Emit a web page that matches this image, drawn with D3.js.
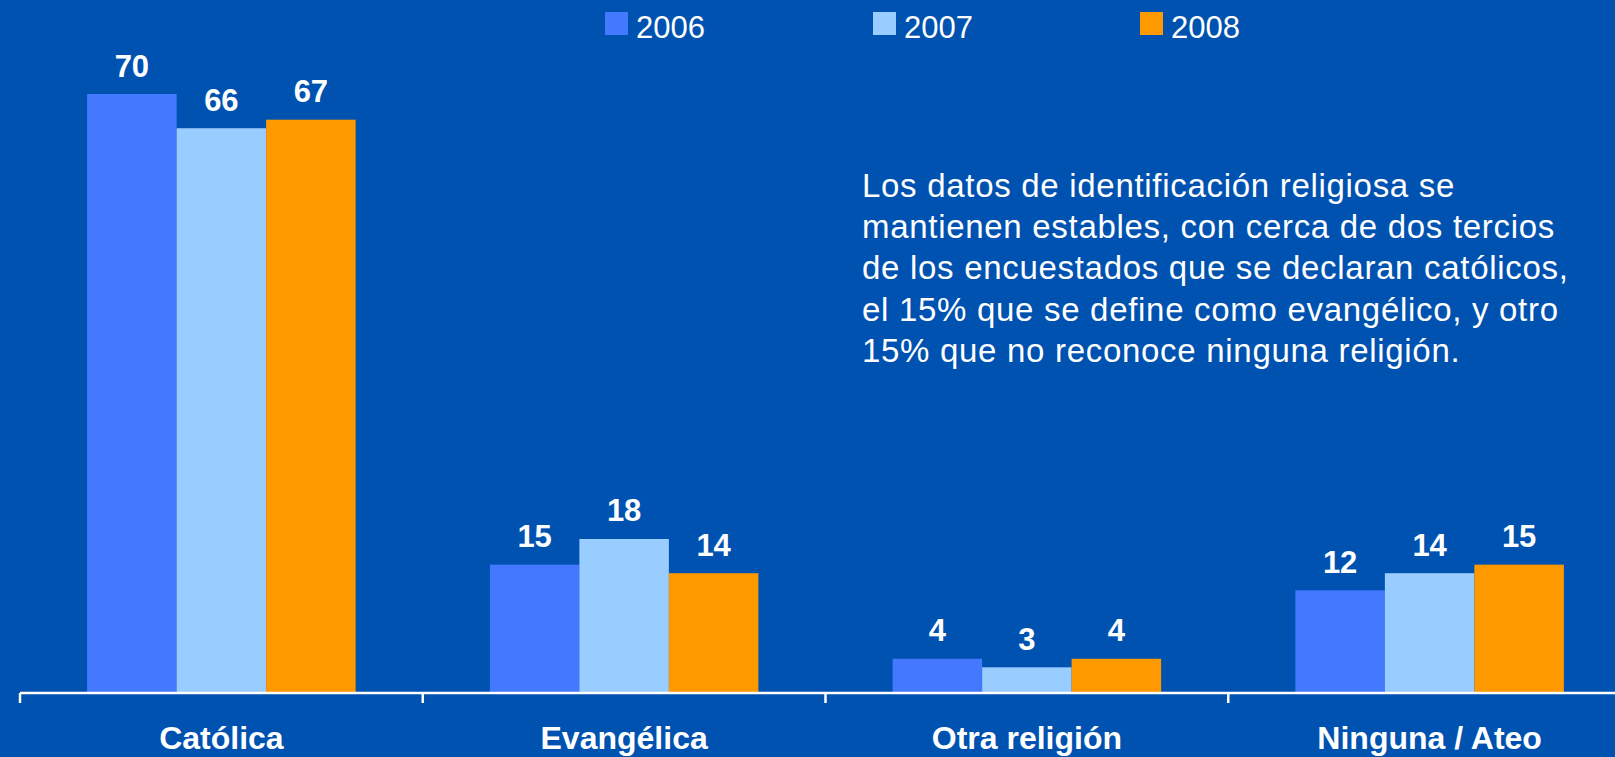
<!DOCTYPE html>
<html>
<head>
<meta charset="utf-8">
<script src="https://cdnjs.cloudflare.com/ajax/libs/d3/7.8.5/d3.min.js"></script>
<style>
  html, body { margin: 0; padding: 0; background: #0052b0; overflow: hidden; }
  svg { display: block; }
</style>
</head>
<body>
<svg id="chart"></svg>
<script>
// data
var categories = ["Católica", "Evangélica", "Otra religión", "Ninguna / Ateo"];
var years = ["2006", "2007", "2008"];
var values2006 = [70, 15, 4, 12];
var values2007 = [66, 18, 3, 14];
var values2008 = [67, 14, 4, 15];
var seriesValues = [values2006, values2007, values2008];
var colors = ["#4479ff", "#99ccff", "#ff9900"];
var noteLines = [
  "Los datos de identificación religiosa se",
  "mantienen estables, con cerca de dos tercios",
  "de los encuestados que se declaran católicos,",
  "el 15% que se define como evangélico, y otro",
  "15% que no reconoce ninguna religión."
];

var width = 1615, height = 757;
var svg = d3.select("#chart").attr("width", width).attr("height", height);

svg.append("rect").attr("width", width).attr("height", height).attr("fill", "#0052b0");

var baseY = 693;

var x0 = d3.scaleBand().domain(categories).range([20, 1631]).paddingInner(0).paddingOuter(0);
var x1 = d3.scaleBand().domain(years).range([0, x0.bandwidth()]).paddingInner(0).paddingOuter(0.75);
var y = d3.scaleLinear().domain([0, 80]).range([baseY, baseY - 80 * 8.557]);

var rows = categories.map(function(c, i) {
  return { cat: c, vals: years.map(function(yr, j) { return { year: yr, idx: j, v: seriesValues[j][i] }; }) };
});

var groups = svg.append("g").selectAll("g.cat")
    .data(rows)
    .enter().append("g")
    .attr("class", "cat")
    .attr("transform", function(d) { return "translate(" + x0(d.cat) + ",0)"; });

groups.selectAll("rect")
    .data(function(d) { return d.vals; })
    .enter().append("rect")
    .attr("x", function(d) { return x1(d.year); })
    .attr("y", function(d) { return y(d.v); })
    .attr("width", x1.bandwidth())
    .attr("height", function(d) { return baseY - y(d.v); })
    .attr("fill", function(d) { return colors[d.idx]; });

groups.selectAll("text.val")
    .data(function(d) { return d.vals; })
    .enter().append("text")
    .attr("class", "val")
    .attr("x", function(d) { return x1(d.year) + x1.bandwidth() / 2; })
    .attr("y", function(d) { return y(d.v) - 17.5; })
    .attr("text-anchor", "middle")
    .attr("fill", "#fff")
    .style("font", "bold 31px 'Liberation Sans', Arial, sans-serif")
    .text(function(d) { return d.v; });

// x axis
var axis = d3.axisBottom(x0).tickSize(0).tickPadding(0).tickFormat("");
var gx = svg.append("g").attr("transform", "translate(0," + baseY + ")").call(axis);
gx.select(".domain").remove();
gx.append("line").attr("x1", 20).attr("x2", width).attr("y1", 0).attr("y2", 0)
    .attr("stroke", "#fff").attr("stroke-width", 2.5);
var tickPos = categories.map(function(c) { return x0(c); });
gx.selectAll("line.sep").data(tickPos).enter().append("line")
    .attr("class", "sep")
    .attr("x1", function(d) { return d; }).attr("x2", function(d) { return d; })
    .attr("y1", 0).attr("y2", 10)
    .attr("stroke", "#fff").attr("stroke-width", 2.5);

svg.append("g").selectAll("text.cat")
    .data(categories)
    .enter().append("text")
    .attr("x", function(d) { return x0(d) + x0.bandwidth() / 2; })
    .attr("y", 749)
    .attr("text-anchor", "middle")
    .attr("fill", "#fff")
    .style("font", "bold 32px 'Liberation Sans', Arial, sans-serif")
    .text(function(d) { return d; });

// legend
var legendX = [605, 873, 1140];
var legend = svg.append("g").selectAll("g.leg")
    .data(years)
    .enter().append("g")
    .attr("transform", function(d, i) { return "translate(" + legendX[i] + ",0)"; });
legend.append("rect")
    .attr("x", 0).attr("y", 12).attr("width", 23).attr("height", 23)
    .attr("fill", function(d, i) { return colors[i]; });
legend.append("text")
    .attr("x", 31).attr("y", 37.5)
    .attr("fill", "#fff")
    .style("font", "31px 'Liberation Sans', Arial, sans-serif")
    .text(function(d) { return d; });

// note
var note = svg.append("g").attr("transform", "translate(862,0)");
note.selectAll("text")
    .data(noteLines)
    .enter().append("text")
    .attr("x", 0)
    .attr("y", function(d, i) { return 197 + i * 41.2; })
    .attr("fill", "#fff")
    .style("font", "33px 'Liberation Sans', Arial, sans-serif")
    .style("letter-spacing", "0.7px")
    .text(function(d) { return d; });
</script>
</body>
</html>
